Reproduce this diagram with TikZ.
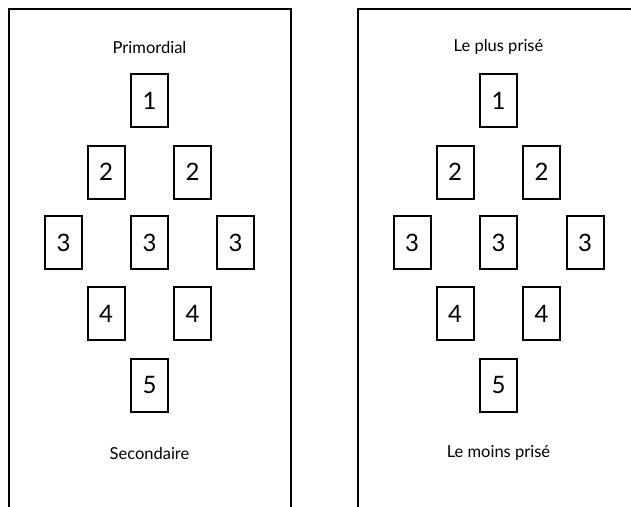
\documentclass[tikz,border=0pt]{standalone}
\usepackage{fontspec}
\setmainfont{Lato}
\begin{document}
\begin{tikzpicture}[x=1pt,y=-1pt,
  card/.style={draw=black,line width=2pt,minimum width=37pt,minimum height=53pt,inner sep=0pt,font=\fontsize{24}{26}\selectfont},
  lbl/.style={font=\fontsize{16.5}{18}\selectfont},
  frame/.style={draw=black,line width=2pt}]
\useasboundingbox (0,0) rectangle (631,506);
\fill[white] (0,0) rectangle (631,506);
% frames
\coordinate (la) at (9,507);
\coordinate (lb) at (9,9);
\coordinate (lc) at (291,9);
\coordinate (ld) at (291,507);
\draw[frame] (la) -- (lb) -- (lc) -- (ld);
\coordinate (ra) at (358,507);
\coordinate (rb) at (358,9);
\coordinate (rc) at (632,9);
\draw[frame] (ra) -- (rb) -- (rc);
% left panel
\node[lbl] (ltop) at (149.5,47) {Primordial};
\node[card] (l1) at (149.5,100.5) {1};
\node[card] (l2a) at (106,172) {2};
\node[card] (l2b) at (192.5,172) {2};
\node[card] (l3a) at (63.5,242.5) {3};
\node[card] (l3b) at (149.5,242.5) {3};
\node[card] (l3c) at (235.5,242.5) {3};
\node[card] (l4a) at (106,313.5) {4};
\node[card] (l4b) at (192.5,313.5) {4};
\node[card] (l5) at (149.5,385) {5};
\node[lbl] (lbot) at (149.5,453) {Secondaire};
% right panel
\node[lbl] (rtop) at (498.5,47) {Le plus prisé};
\node[card] (r1) at (498.5,100.5) {1};
\node[card] (r2a) at (455,172) {2};
\node[card] (r2b) at (541.5,172) {2};
\node[card] (r3a) at (412,242.5) {3};
\node[card] (r3b) at (498.5,242.5) {3};
\node[card] (r3c) at (585,242.5) {3};
\node[card] (r4a) at (455,313.5) {4};
\node[card] (r4b) at (541.5,313.5) {4};
\node[card] (r5) at (498.5,385) {5};
\node[lbl] (rbot) at (498.5,453) {Le moins prisé};
\end{tikzpicture}
\end{document}
